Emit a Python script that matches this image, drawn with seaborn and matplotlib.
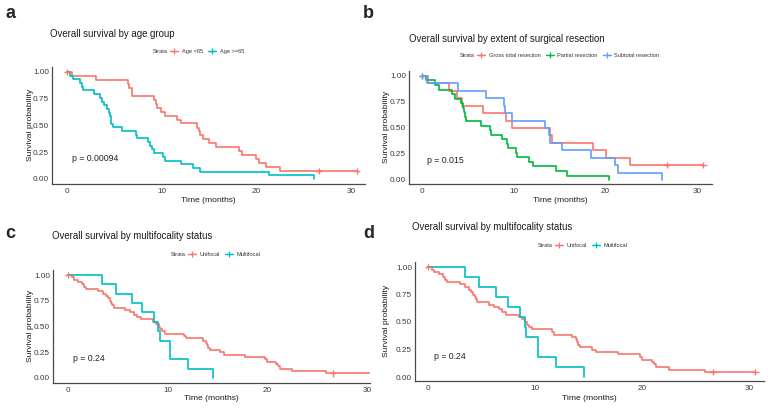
import numpy as np
import pandas as pd
import matplotlib
matplotlib.use("Agg")
import matplotlib.pyplot as plt
from matplotlib.lines import Line2D
import seaborn as sns

# ---------------- data ----------------
# Panel a: age group
a_lt65_time = [0, 0.5, 3.1, 6.4, 6.6, 6.9, 9.2, 9.35, 9.5, 9.9, 10.3, 11.6, 12.0, 13.7, 13.9,
               14.1, 14.4, 15.0, 15.7, 18.2, 18.5, 20.0, 20.3, 21.0, 22.5]
a_lt65_surv = [1.0, 0.963, 0.926, 0.889, 0.852, 0.778, 0.741, 0.704, 0.667, 0.630, 0.593, 0.556,
               0.519, 0.481, 0.444, 0.407, 0.370, 0.333, 0.296, 0.259, 0.222, 0.185, 0.148, 0.111, 0.074]
a_lt65_cens = [0, 26.6, 30.6]
a_ge65_time = [0, 0.3, 0.6, 1.4, 1.55, 1.7, 2.8, 3.5, 3.7, 3.9, 4.2, 4.4, 4.5, 4.6, 4.7, 4.9, 5.8,
               7.3, 7.4, 8.6, 8.8, 9.0, 9.2, 10.1, 10.3, 12.0, 13.3, 14.0, 21.3, 26.1]
a_ge65_surv = [1.0, 0.966, 0.931, 0.897, 0.862, 0.828, 0.793, 0.759, 0.724, 0.690, 0.655, 0.621,
               0.586, 0.552, 0.517, 0.483, 0.448, 0.414, 0.379, 0.345, 0.310, 0.276, 0.241, 0.207,
               0.172, 0.138, 0.103, 0.069, 0.034, 0.0]
a_ge65_cens = []
a_labels = ["Age <65", "Age >=65"]
a_pval = "p = 0.00094"

# Panel b: extent of surgical resection
b_gtr_time = [0, 0.6, 2.9, 3.8, 4.4, 6.6, 9.2, 9.8, 14.0, 14.2, 18.6, 20.1, 22.7]
b_gtr_surv = [1.0, 0.929, 0.857, 0.786, 0.714, 0.643, 0.571, 0.5, 0.429, 0.357, 0.286, 0.214, 0.143]
b_gtr_cens = [0, 26.7, 30.7]
b_par_time = [0, 0.4, 1.45, 1.8, 3.3, 3.6, 4.2, 4.5, 4.6, 4.7, 4.8, 6.4, 7.45, 7.5, 8.7, 9.3,
              9.4, 10.3, 10.4, 11.7, 12.1, 14.65, 15.8, 20.4]
b_par_surv = [1.0, 0.957, 0.913, 0.870, 0.826, 0.783, 0.739, 0.696, 0.652, 0.609, 0.565, 0.522,
              0.478, 0.435, 0.391, 0.348, 0.304, 0.261, 0.217, 0.174, 0.130, 0.087, 0.043, 0.0]
b_par_cens = []
b_sub_time = [0, 0.5, 3.9, 7.0, 8.9, 9.1, 9.8, 13.45, 13.8, 14.0, 15.3, 18.4, 21.1, 21.4, 26.2]
b_sub_surv = [1.0, 0.929, 0.857, 0.786, 0.714, 0.643, 0.571, 0.5, 0.429, 0.357, 0.286, 0.214,
              0.143, 0.071, 0.0]
b_sub_cens = [0]
b_labels = ["Gross total resection", "Partial resection", "Subtotal resection"]
b_pval = "p = 0.015"

# Panels c and d: multifocality status
cd_uni_time = [0, 0.37, 0.6, 1.0, 1.4, 1.6, 1.8, 3.0, 3.5, 3.8, 4.0, 4.2, 4.35, 4.45, 4.6, 5.7,
               6.2, 6.6, 6.9, 7.3, 8.5, 8.8, 9.1, 9.25, 9.4, 9.7, 11.6, 11.8, 13.5, 13.8, 13.9,
               14.0, 14.2, 15.3, 15.7, 17.8, 19.8, 20.0, 20.9, 21.1, 21.3, 22.5, 25.9]
cd_uni_surv = [1.0, 0.977, 0.955, 0.932, 0.909, 0.886, 0.864, 0.841, 0.818, 0.795, 0.773, 0.750,
               0.727, 0.705, 0.682, 0.659, 0.636, 0.614, 0.591, 0.568, 0.545, 0.523, 0.500, 0.477,
               0.455, 0.432, 0.409, 0.386, 0.364, 0.341, 0.318, 0.295, 0.273, 0.250, 0.227, 0.205,
               0.182, 0.159, 0.136, 0.114, 0.091, 0.068, 0.045]
cd_uni_cens = [0, 26.6, 30.6]
cd_mul_time = [0, 3.43, 4.8, 6.4, 7.45, 8.6, 9.05, 9.2, 10.25, 12.0, 14.55]
cd_mul_surv = [1.0, 0.909, 0.818, 0.727, 0.636, 0.545, 0.455, 0.364, 0.182, 0.091, 0.0]
cd_mul_cens = []
cd_labels = ["Unifocal", "Multifocal"]
cd_pval = "p = 0.24"

panel_letters = ["a", "b", "c", "d"]
titles = ["Overall survival by age group",
          "Overall survival by extent of surgical resection",
          "Overall survival by multifocality status",
          "Overall survival by multifocality status"]
x_ticks = [0, 10, 20, 30]
y_ticks = [0.00, 0.25, 0.50, 0.75, 1.00]
y_ticklabels = ["0.00", "0.25", "0.50", "0.75", "1.00"]
x_label = "Time (months)"
y_label = "Survival probability"
legend_title = "Strata"

# ---------------- style ----------------
sns.set_style("white")
plt.rcParams["font.family"] = ["Liberation Sans", "DejaVu Sans"]

W, H = 768, 408
fig = plt.figure(figsize=(W / 100, H / 100), dpi=100)

PAL2 = ["#F8766D", "#00BFC4"]
PAL3 = ["#F8766D", "#00BA38", "#619CFF"]
AXCOL = "#4a4a4a"


def step_frame(series):
    rows = []
    for label, t, s, c in series:
        t = list(t)
        s = list(s)
        if c and max(c) > t[-1]:
            t = t + [max(c)]
            s = s + [s[-1]]
        for ti, si in zip(t, s):
            rows.append((label, ti, si))
    return pd.DataFrame(rows, columns=["strata", "time", "surv"])


def censor_frame(series):
    rows = []
    for label, t, s, c in series:
        for ci in c:
            idx = np.searchsorted(np.array(t), ci, side="right") - 1
            rows.append((label, ci, s[idx]))
    return pd.DataFrame(rows, columns=["strata", "time", "surv"])


def panel(series, palette, pval, geom, title_pos, letter_pos, letter, title,
          legend_pos, ylab_x, xlab_y):
    left, right, top_unused, bottom, px0, px30, py1, py0 = geom
    xs = (px30 - px0) / 30.0
    ys = (py0 - py1)
    top = py1 - 0.05 * ys
    ax = fig.add_axes([left / W, 1 - bottom / H, (right - left) / W, (bottom - top) / H])
    labels = [s[0] for s in series]
    df = step_frame(series)
    sns.lineplot(data=df, x="time", y="surv", hue="strata", hue_order=labels,
                 palette=palette, drawstyle="steps-post", estimator=None, sort=False,
                 legend=False, linewidth=1.2, ax=ax)
    cf = censor_frame(series)
    if len(cf):
        sns.scatterplot(data=cf, x="time", y="surv", hue="strata", hue_order=labels,
                        palette=palette, marker="+", s=22, linewidth=1.0,
                        legend=False, ax=ax, zorder=5)
    ax.set_xlim(-(px0 - left) / xs, 30 + (right - px30) / xs)
    ax.set_ylim(-(bottom - py0) / ys, 1.05)
    ax.set_xticks(x_ticks)
    ax.set_yticks(y_ticks)
    ax.set_yticklabels(y_ticklabels)
    ax.set_xlabel("")
    ax.set_ylabel("")
    for sp in ["top", "right"]:
        ax.spines[sp].set_visible(False)
    for sp in ["left", "bottom"]:
        ax.spines[sp].set_color(AXCOL)
        ax.spines[sp].set_linewidth(0.9)
    ax.tick_params(axis="both", labelsize=5.9, colors=AXCOL, labelcolor="#3a3a3a",
                   length=1.6, width=0.7, direction="out")
    ax.tick_params(axis="y", pad=0.6)
    ax.tick_params(axis="x", pad=1.6)
    ax.text(0.55, 0.19, pval, fontsize=6.3, ha="left", va="center", color="#222222")
    # texts
    fig.text(letter_pos[0] / W, 1 - letter_pos[1] / H, letter, fontsize=13,
             fontweight="bold", ha="left", va="baseline")
    fig.text(title_pos[0] / W, 1 - title_pos[1] / H, title, fontsize=6.9,
             ha="left", va="baseline", color="#1a1a1a")
    fig.text(ylab_x / W, 1 - ((top + bottom) / 2) / H, y_label, rotation=90,
             fontsize=6.1, ha="center", va="center", color="#1a1a1a")
    fig.text(((left + right) / 2) / W, 1 - xlab_y / H, x_label, fontsize=6.1,
             ha="center", va="center", color="#1a1a1a")
    # legend
    sx, sy = legend_pos
    fig.text(sx / W, 1 - sy / H, legend_title, fontsize=4.1, ha="left", va="center",
             color="#333333")
    handles = [Line2D([], [], color=c, lw=1.0, marker="+", markersize=4,
                      markeredgewidth=0.9) for c in palette[:len(labels)]]
    fig.legend(handles, labels, ncol=len(labels), loc="center left",
               bbox_to_anchor=((sx + 17) / W, 1 - sy / H), frameon=False,
               fontsize=4.1, handlelength=1.45, handletextpad=0.6,
               columnspacing=0.9, borderpad=0, borderaxespad=0, labelcolor="#333333")
    return ax


panel([(a_labels[0], a_lt65_time, a_lt65_surv, a_lt65_cens),
       (a_labels[1], a_ge65_time, a_ge65_surv, a_ge65_cens)],
      PAL2, a_pval, (52, 365, None, 184, 67, 351, 72, 179),
      (50, 36.7), (5, 18), panel_letters[0], titles[0], (153, 51.7), 30, 201)

panel([(b_labels[0], b_gtr_time, b_gtr_surv, b_gtr_cens),
       (b_labels[1], b_par_time, b_par_surv, b_par_cens),
       (b_labels[2], b_sub_time, b_sub_surv, b_sub_cens)],
      PAL3, b_pval, (409, 712, None, 184, 422, 697, 76, 180),
      (409, 41.5), (363, 17.5), panel_letters[1], titles[1], (460, 55.5), 387, 201)

panel([(cd_labels[0], cd_uni_time, cd_uni_surv, cd_uni_cens),
       (cd_labels[1], cd_mul_time, cd_mul_surv, cd_mul_cens)],
      PAL2, cd_pval, (53, 370, None, 383, 68, 367, 275, 378),
      (52, 239.3), (5, 237.5), panel_letters[2], titles[2], (170.7, 254.7), 30, 399)

panel([(cd_labels[0], cd_uni_time, cd_uni_surv, cd_uni_cens),
       (cd_labels[1], cd_mul_time, cd_mul_surv, cd_mul_cens)],
      PAL2, cd_pval, (415, 764, None, 381, 428, 749, 267, 377),
      (412, 230), (363, 237.5), panel_letters[3], titles[3], (538, 245.7), 387, 399)

fig.savefig("out.png", dpi=100, facecolor="white")
